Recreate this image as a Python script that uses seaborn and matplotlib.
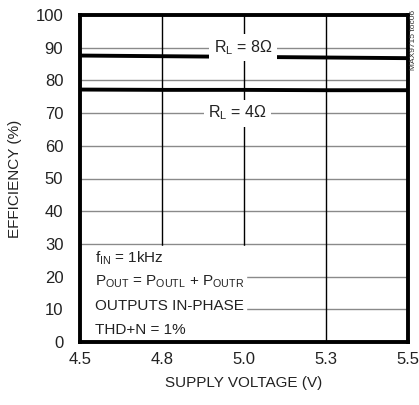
import matplotlib
matplotlib.use("Agg")
import matplotlib.pyplot as plt
import seaborn as sns
import pandas as pd

sns.set_theme(style="white")
plt.rcParams['font.family'] = ['Liberation Sans', 'DejaVu Sans']
plt.rcParams['mathtext.fontset'] = 'custom'
plt.rcParams['mathtext.rm'] = 'Liberation Sans'
plt.rcParams['mathtext.it'] = 'Liberation Sans'

# Efficiency vs. supply voltage for two load resistances
voltage = [4.5, 4.75, 5.0, 5.25, 5.5]
eff_8ohm = [87.6, 87.4, 87.2, 87.0, 86.8]
eff_4ohm = [77.2, 77.1, 77.1, 77.0, 77.0]

x_ticks = [4.5, 4.75, 5.0, 5.25, 5.5]
x_tick_labels = ["4.5", "4.8", "5.0", "5.3", "5.5"]
y_ticks = [0, 10, 20, 30, 40, 50, 60, 70, 80, 90, 100]

df = pd.concat([
    pd.DataFrame({"voltage": voltage, "eff": eff_8ohm, "load": "8"}),
    pd.DataFrame({"voltage": voltage, "eff": eff_4ohm, "load": "4"}),
])

fig = plt.figure(figsize=(4.19, 4.05), dpi=100)
ax = fig.add_axes([80 / 419, 1 - 342 / 405, 328 / 419, 327 / 405])

sns.lineplot(data=df, x="voltage", y="eff", hue="load",
             palette={"8": "black", "4": "black"}, linewidth=2.8,
             legend=False, ax=ax, zorder=4)

ax.set_xlim(4.5, 5.5)
ax.set_ylim(0, 100)
ax.set_xticks(x_ticks)
ax.set_xticklabels(x_tick_labels)
ax.set_yticks(y_ticks)

# grid: grey horizontals, black verticals
for y in y_ticks[1:-1]:
    ax.axhline(y, color="#8a8a8a", lw=1.0, zorder=1)
for x in x_ticks[1:-1]:
    ax.axvline(x, color="black", lw=1.0, zorder=1)

# white panel behind the test-condition notes
ax.fill_between([4.5, 5.005], 0, 29.4, color="white", zorder=2)

for s in ax.spines.values():
    s.set_linewidth(2.8)
    s.set_color("black")
    s.set_zorder(6)

ax.tick_params(axis="both", direction="in", length=5, width=1.0, color="black",
               labelsize=12, pad=7, labelcolor="#222222")
ax.tick_params(axis="y", length=0, pad=12)

ax.set_xlabel("SUPPLY VOLTAGE (V)", fontsize=11, color="#222222", labelpad=7)
ax.set_ylabel("EFFICIENCY (%)", fontsize=11, color="#222222", labelpad=10)

box = dict(facecolor="white", edgecolor="none", pad=3.0)
ax.text(4.997, 90, r"$\mathregular{R_L}$ = 8$\Omega$", ha="center", va="center",
        fontsize=11.5, color="#222222", bbox=box, zorder=5)
ax.text(4.98, 70, r"$\mathregular{R_L}$ = 4$\Omega$", ha="center", va="center",
        fontsize=11.5, color="#222222", bbox=box, zorder=5)

notes = [
    (25.5, r"$\mathregular{f_{IN}}$ = 1kHz"),
    (18.5, r"$\mathregular{P_{OUT}}$ = $\mathregular{P_{OUTL}}$ + $\mathregular{P_{OUTR}}$"),
    (11, "OUTPUTS IN-PHASE"),
    (3.8, "THD+N = 1%"),
]
for y, t in notes:
    ax.text(4.545, y, t, ha="left", va="center", fontsize=11, color="#222222",
            bbox=dict(facecolor="white", edgecolor="none", pad=1.0), zorder=5)

fig.text(413 / 419, 1 - 40 / 405, "MAX9715 toc06", rotation=90, ha="center",
         va="center", fontsize=6, color="#333333")

fig.savefig("out.png", dpi=100)
